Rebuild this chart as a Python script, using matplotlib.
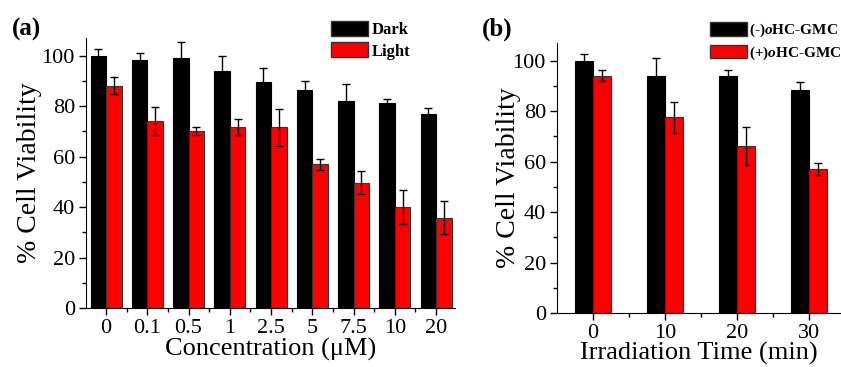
import matplotlib
matplotlib.use("Agg")
import matplotlib.pyplot as plt
from matplotlib.ticker import MultipleLocator
from matplotlib.patches import Patch
import numpy as np

plt.rcParams['font.family'] = ['Liberation Serif', 'DejaVu Serif']
plt.rcParams['mathtext.fontset'] = 'custom'
plt.rcParams['mathtext.rm'] = 'Liberation Serif'
plt.rcParams['mathtext.it'] = 'Liberation Serif:italic'
plt.rcParams['mathtext.bf'] = 'Liberation Serif:bold'
plt.rcParams['mathtext.bfit'] = 'Liberation Serif:italic:bold'

# panel (a)
conc = ['0', '0.1', '0.5', '1', '2.5', '5', '7.5', '10', '20']
dark = [100, 98.4, 99.1, 93.8, 89.4, 86.5, 82.1, 81.3, 76.9]
dark_err = [2.8, 2.6, 6.5, 6.0, 5.8, 3.5, 6.5, 1.5, 2.3]
light = [88.1, 74.1, 70.1, 71.7, 71.6, 56.9, 49.7, 40.1, 35.7]
light_err = [3.3, 5.5, 1.6, 3.3, 7.4, 2.1, 4.4, 6.7, 6.5]

# panel (b)
times = ['0', '10', '20', '30']
minus_g = [99.9, 94.1, 94.1, 88.2]
minus_err = [2.9, 7.0, 2.3, 3.3]
plus_g = [94.1, 77.6, 66.1, 56.9]
plus_err = [2.3, 6.1, 7.5, 2.4]

RED = '#ff0000'

fig = plt.figure(figsize=(8.41, 3.67), dpi=100)
ax1 = fig.add_axes([0.1023, 0.1608, 0.4388, 0.7357])
ax2 = fig.add_axes([0.6623, 0.1471, 0.3377, 0.7357])


def style(ax, xlabel, xpad, ypad):
	for s in ['top', 'right']:
		ax.spines[s].set_visible(False)
	ax.set_ylim(0, 107)
	ax.yaxis.set_major_locator(MultipleLocator(20))
	ax.yaxis.set_minor_locator(MultipleLocator(10))
	ax.tick_params(axis='both', which='major', direction='out', length=5, width=1, labelsize=16, pad=3)
	ax.tick_params(axis='both', which='minor', direction='out', length=3, width=1)
	ax.set_ylabel('% Cell Viability', fontsize=20, labelpad=ypad)
	ax.set_xlabel(xlabel, fontsize=19, labelpad=xpad)


w1 = 0.375
x1 = np.arange(len(conc))
ax1.bar(x1 - w1 / 2, dark, w1, color='black', edgecolor='black', linewidth=0.8,
	yerr=dark_err, capsize=3, error_kw=dict(elinewidth=1, capthick=1, ecolor='black'))
ax1.bar(x1 + w1 / 2, light, w1, color=RED, edgecolor='#333333', linewidth=0.8,
	yerr=light_err, capsize=3, error_kw=dict(elinewidth=1, capthick=1, ecolor='black'))
ax1.set_xticks(x1)
ax1.set_xticklabels(conc)
ax1.set_xticks(x1[:-1] + 0.5, minor=True)
ax1.set_xlim(-0.485, 8.46)
style(ax1, 'Concentration (\u03bcM)', 0, 0)

w2 = 0.25
x2 = np.arange(len(times))
ax2.bar(x2 - w2 / 2, minus_g, w2, color='black', edgecolor='black', linewidth=0.8,
	yerr=minus_err, capsize=3, error_kw=dict(elinewidth=1, capthick=1, ecolor='black'))
ax2.bar(x2 + w2 / 2, plus_g, w2, color=RED, edgecolor='#333333', linewidth=0.8,
	yerr=plus_err, capsize=3, error_kw=dict(elinewidth=1, capthick=1, ecolor='black'))
ax2.set_xticks(x2)
ax2.set_xticklabels(times)
ax2.set_xticks(x2[:-1] + 0.5, minor=True)
ax2.set_xlim(-0.5, 3.44)
style(ax2, 'Irradiation Time (min)', -1, -6)

leg_kw = dict(frameon=False, handlelength=2.2, handleheight=1.0, handletextpad=0.25,
	labelspacing=0.25, borderpad=0, borderaxespad=0)
h1 = [Patch(facecolor='black', edgecolor='#333333'), Patch(facecolor=RED, edgecolor='#333333')]
fig.legend(h1, ['Dark', 'Light'], loc='upper left', bbox_to_anchor=(331 / 841, 1 - 21 / 367),
	prop={'weight': 'bold', 'size': 12}, **leg_kw)
h2 = [Patch(facecolor='black', edgecolor='#333333'), Patch(facecolor=RED, edgecolor='#333333')]
leg_kw.update(handlelength=2.4, handletextpad=0.15, labelspacing=0.35)
fig.legend(h2, [r'(-)$\mathbfit{o}$HC-GMC', r'(+)$\mathbfit{o}$HC-GMC'], loc='upper left',
	bbox_to_anchor=(710 / 841, 1 - 22 / 367), prop={'weight': 'bold', 'size': 11}, **leg_kw)

fig.text(12 / 841, 1 - 36 / 367, '(a)', fontsize=18, fontweight='bold')
fig.text(482 / 841, 1 - 36 / 367, '(b)', fontsize=18, fontweight='bold')

fig.savefig('out.png', dpi=100)
